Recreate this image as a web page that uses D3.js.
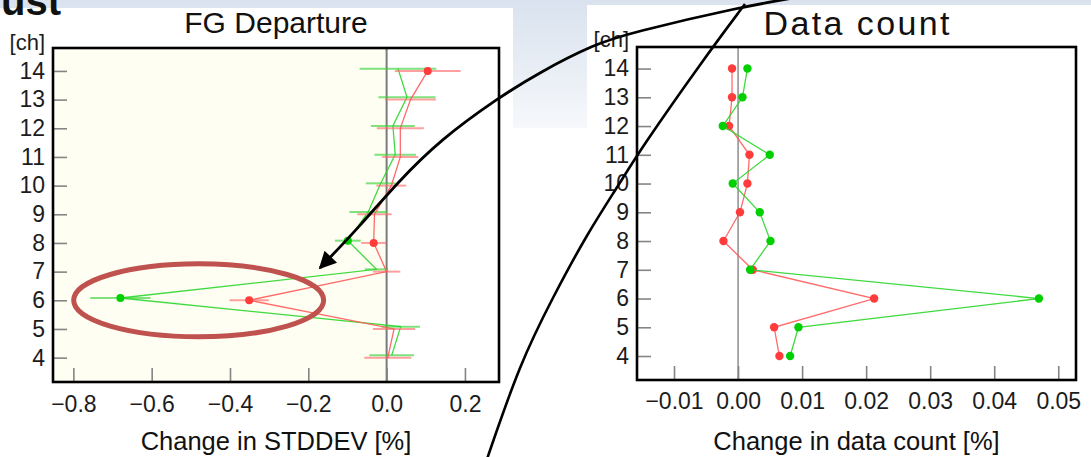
<!DOCTYPE html>
<html>
<head>
<meta charset="utf-8">
<script src="https://cdn.jsdelivr.net/npm/d3@7"></script>
<style>
  html, body { margin: 0; padding: 0; background: #ffffff; }
  svg { display: block; }
  text { font-family: "Liberation Sans", Arial, Helvetica, sans-serif; }
</style>
</head>
<body>
<svg id="fig" width="1091" height="457"></svg>
<script>
// ---- data ---------------------------------------------------------------
const channels = [14, 13, 12, 11, 10, 9, 8, 7, 6, 5, 4];

// FG departure: change in STDDEV [%] (mean and half error-bar width)
const stdRed      = [0.105, 0.061, 0.035, 0.035, 0.012, -0.031, -0.033, 0.000, -0.351, 0.019, 0.003];
const stdRedErr   = [0.084, 0.065, 0.060, 0.046, 0.038, 0.044, 0.032, 0.035, 0.050, 0.054, 0.060];
const stdRedSig   = [true, false, false, false, false, false, true, false, true, false, false];
const stdGreen    = [0.029, 0.052, 0.016, 0.022, -0.015, -0.047, -0.099, -0.026, -0.680, 0.036, 0.013];
const stdGreenErr = [0.098, 0.073, 0.056, 0.053, 0.038, 0.048, 0.033, 0.030, 0.077, 0.049, 0.057];
const stdGreenSig = [false, false, false, false, false, false, true, false, true, false, false];

// Data count: change in data count [%]
const cntRed   = [-0.00094, -0.00094, -0.0014, 0.00178, 0.00146, 0.0003, -0.00228, 0.0023, 0.02125, 0.00563, 0.00646];
const cntGreen = [0.00146, 0.00069, -0.00239, 0.00495, -0.00083, 0.00339, 0.00506, 0.00188, 0.04698, 0.00943, 0.00813];

const stdTicks = [-0.8, -0.6, -0.4, -0.2, 0.0, 0.2];
const cntTicks = [-0.01, 0.00, 0.01, 0.02, 0.03, 0.04, 0.05];
const chTicks  = [4, 5, 6, 7, 8, 9, 10, 11, 12, 13, 14];

// ---- styling -------------------------------------------------------------
const RED = { line: "#ff5a5a", bar: "#ff6b6b", dot: "#ff3b3b" };
const GREEN = { line: "#2bd62b", bar: "#3ad33a", dot: "#00cf00" };
const GREEN_SHIFT = 0.08;   // green profile drawn slightly above red in the STDDEV panel

const svg = d3.select("#fig");
const defs = svg.append("defs");

// ---- slide background ---------------------------------------------------
const bg = defs.append("linearGradient").attr("id", "topGrad")
  .attr("x1", 0).attr("y1", 0).attr("x2", 0).attr("y2", 1);
bg.append("stop").attr("offset", "0%").attr("stop-color", "#d9e2ee");
bg.append("stop").attr("offset", "100%").attr("stop-color", "#f6f8fb");

svg.append("rect").attr("width", 1091).attr("height", 457).attr("fill", "#ffffff");
svg.append("rect").attr("x", 0).attr("y", 0).attr("width", 1091).attr("height", 128)
  .attr("fill", "url(#topGrad)");
// image panels
svg.append("rect").attr("x", 0).attr("y", 8).attr("width", 513).attr("height", 449).attr("fill", "#ffffff");
svg.append("rect").attr("x", 587).attr("y", 5).attr("width", 504).attr("height", 452).attr("fill", "#ffffff");

// slide heading (only its tail is on screen)
svg.append("text").attr("x", 61).attr("y", 15).attr("text-anchor", "end")
  .attr("font-size", 40).attr("font-weight", "bold").attr("fill", "#111")
  .text("ust");

// ---- panel helper --------------------------------------------------------
function drawPanel(cfg) {
  const g = svg.append("g");
  const { x, y } = cfg;
  const [x0, x1] = x.range();
  const [yb, yt] = y.range();

  // shaded negative half
  if (cfg.shadeNegative) {
    g.append("rect").attr("x", x0).attr("y", yt)
      .attr("width", x(0) - x0).attr("height", yb - yt)
      .attr("fill", "#fefef2");
  }

  // zero line
  g.append("line").attr("x1", x(0)).attr("x2", x(0)).attr("y1", yt).attr("y2", yb)
    .attr("stroke", cfg.zeroColor).attr("stroke-width", cfg.zeroWidth);

  // axes with inward ticks
  const yAxis = g.append("g").attr("transform", `translate(${x0},0)`)
    .call(d3.axisLeft(y).tickValues(chTicks).tickFormat(d3.format("d"))
      .tickSize(-14).tickPadding(8));
  const xAxis = g.append("g").attr("transform", `translate(0,${yb})`)
    .call(d3.axisBottom(x).tickValues(cfg.ticks).tickFormat(d3.format(cfg.fmt))
      .tickSize(-14).tickPadding(cfg.xPad));
  [yAxis, xAxis].forEach(a => {
    a.select(".domain").remove();
    a.selectAll(".tick line").attr("stroke", "#858585").attr("stroke-width", 1.6);
    a.selectAll(".tick text").attr("font-size", 23).attr("fill", "#1c1c1c")
      .attr("font-family", "'Liberation Sans', Arial, sans-serif");
  });

  // series
  cfg.series.forEach(s => {
    const pts = channels.map((c, i) => ({
      ch: c + (s.shift || 0), v: s.values[i],
      e: s.err ? s.err[i] : 0, sig: s.sig ? s.sig[i] : true
    }));
    const sg = g.append("g");
    if (s.err) {
      sg.selectAll("line.eb").data(pts).join("line").attr("class", "eb")
        .attr("x1", d => x(d.v - d.e)).attr("x2", d => x(d.v + d.e))
        .attr("y1", d => y(d.ch)).attr("y2", d => y(d.ch))
        .attr("stroke", s.color.bar).attr("stroke-width", 2).attr("stroke-opacity", 0.65);
    }
    sg.append("path").datum(pts)
      .attr("d", d3.line().x(d => x(d.v)).y(d => y(d.ch)))
      .attr("fill", "none").attr("stroke", s.color.line)
      .attr("stroke-width", 1.3).attr("stroke-opacity", 0.9);
    sg.selectAll("circle").data(pts.filter(d => d.sig)).join("circle")
      .attr("cx", d => x(d.v)).attr("cy", d => y(d.ch)).attr("r", s.r)
      .attr("fill", s.color.dot);
  });

  // frame
  g.append("rect").attr("x", x0).attr("y", yt).attr("width", x1 - x0).attr("height", yb - yt)
    .attr("fill", "none").attr("stroke", "#000").attr("stroke-width", 2.6);

  // titles
  const t = g.append("text").attr("x", (x0 + x1) / 2).attr("y", cfg.titleY)
    .attr("text-anchor", "middle").attr("font-size", cfg.titleSize)
    .attr("font-weight", cfg.titleWeight || 400)
    .attr("font-family", cfg.titleFont).attr("fill", "#111")
    .text(cfg.title);
  if (cfg.titleLen) t.attr("textLength", cfg.titleLen).attr("lengthAdjust", "spacing");
  g.append("text").attr("x", (x0 + x1) / 2).attr("y", 450)
    .attr("text-anchor", "middle").attr("font-size", 25.5).attr("fill", "#111")
    .text(cfg.xLabel);
  g.append("text").attr("x", x0 - 8).attr("y", cfg.chY)
    .attr("text-anchor", "end").attr("font-size", 22).attr("fill", "#1c1c1c")
    .text("[ch]");
  return g;
}

// ---- FG departure panel ---------------------------------------------------
const xStd = d3.scaleLinear().domain([-0.852, 0.287]).range([53, 499]);
const yStd = d3.scaleLinear().domain([3.15, 14.8]).range([382, 48]);
drawPanel({
  x: xStd, y: yStd, ticks: stdTicks, fmt: ".1f", xPad: 14,
  shadeNegative: true, zeroColor: "#7a7a7a", zeroWidth: 2,
  title: "FG Departure", titleY: 33, titleSize: 30,
  titleFont: "'Liberation Sans', Arial, sans-serif",
  xLabel: "Change in STDDEV [%]", chY: 50,
  series: [
    { values: stdGreen, err: stdGreenErr, sig: stdGreenSig, color: GREEN, shift: GREEN_SHIFT, r: 4 },
    { values: stdRed, err: stdRedErr, sig: stdRedSig, color: RED, r: 4 }
  ]
});

// ---- Data count panel -----------------------------------------------------
const xCnt = d3.scaleLinear().domain([-0.01578, 0.05277]).range([637, 1076]);
const yCnt = d3.scaleLinear().domain([3.166, 14.75]).range([380, 47]);
drawPanel({
  x: xCnt, y: yCnt, ticks: cntTicks, fmt: ".2f", xPad: 13,
  shadeNegative: false, zeroColor: "#555", zeroWidth: 1,
  title: "Data count", titleY: 35, titleSize: 34, titleLen: 186, titleWeight: 300,
  titleFont: "'Noto Sans CJK JP', 'Noto Sans', sans-serif",
  xLabel: "Change in data count [%]", chY: 47,
  series: [
    { values: cntRed, color: RED, r: 4.2 },
    { values: cntGreen, color: GREEN, r: 4.2 }
  ]
});

// ---- annotations ----------------------------------------------------------
// highlight ring around the channel-6 outliers
svg.append("ellipse")
  .attr("cx", xStd(-0.48)).attr("cy", yStd(6.0))
  .attr("rx", 125).attr("ry", 36.5)
  .attr("fill", "none").attr("stroke", "#bf514e").attr("stroke-width", 5);

defs.append("marker").attr("id", "arrowHead")
  .attr("viewBox", "0 0 10 10").attr("refX", 9).attr("refY", 5)
  .attr("markerWidth", 8).attr("markerHeight", 6.2)
  .attr("markerUnits", "strokeWidth").attr("orient", "auto")
  .append("path").attr("d", "M0,0 L10,5 L0,10 z").attr("fill", "#000");

const callout = d3.line().curve(d3.curveBasis);
const arrowPath = [[805, -4], [740, 7], [630, 33], [595, 44], [540, 72], [498, 98],
                   [440, 140], [397, 183], [360, 226], [320, 268]];
const leaderPath = [[745, 4], [703, 60], [640, 150], [620, 183], [587, 234],
                    [553, 297], [520, 363], [486, 462]];

svg.append("path").attr("d", callout(arrowPath))
  .attr("fill", "none").attr("stroke", "#000").attr("stroke-width", 2.8)
  .attr("marker-end", "url(#arrowHead)");
svg.append("path").attr("d", callout(leaderPath))
  .attr("fill", "none").attr("stroke", "#000").attr("stroke-width", 2.6);
</script>
</body>
</html>
